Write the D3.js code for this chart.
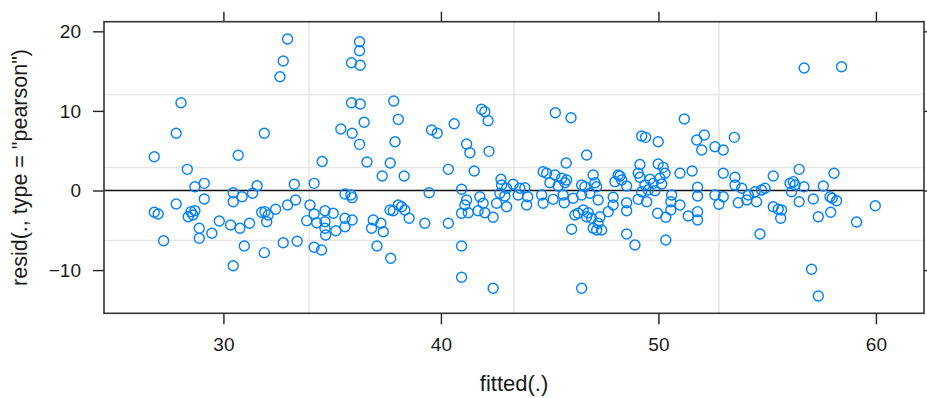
<!DOCTYPE html>
<html>
  <head>
    <meta charset="utf-8">
    <title>Residuals vs fitted</title>
    <script src="https://cdn.jsdelivr.net/npm/d3@7"></script>
    <style>
      body { margin: 0; background: #fff; }
      text { font-family: "Liberation Sans", Arial, sans-serif; fill: #1a1a1a; }
    </style>
  </head>
  <body>
    <svg id="chart" width="927" height="398"></svg>
    <script>
      // fitted values (x) and pearson residuals (y)
      const fitted = [
        28.05, 27.83, 31.88, 26.82, 30.68, 28.34, 28.69, 29.12, 30.45, 30.45,
        30.86, 31.34, 31.55, 29.12, 27.83, 26.82, 27.00, 28.38, 28.51, 28.69,
        28.60, 28.89, 28.89, 29.47, 29.81, 30.33, 30.76, 31.20, 27.25, 30.96,
        30.45, 31.88, 31.76, 31.99,
        32.95, 32.75, 32.60, 36.26, 36.26, 35.89, 36.29, 35.89, 36.29, 37.83,
        36.47, 38.04, 35.40, 35.92, 36.26, 37.89, 34.54, 36.60, 37.67, 37.30,
        38.31, 33.26, 34.17, 35.59, 35.86, 35.92, 39.46, 31.91, 32.06, 32.40,
        32.95, 33.32, 32.75, 33.39, 33.98, 34.17, 34.67, 35.05, 33.83, 34.29,
        34.67, 34.67, 34.70, 35.17, 35.59, 35.59, 35.92, 34.17, 34.51, 36.89,
        36.81, 37.24, 37.35, 37.06, 37.69, 37.66, 37.81, 38.04, 38.19, 38.34,
        38.54, 39.26,
        41.87, 42.02, 42.17, 40.61, 39.57, 39.83, 41.18, 41.33, 42.21, 45.26,
        45.98, 46.70, 45.76, 40.34, 41.53, 40.95, 42.76, 42.79, 43.02, 43.32,
        43.63, 43.86, 42.71, 42.94, 43.55, 43.99, 43.94, 44.70, 44.86, 45.24,
        45.55, 45.78, 45.01, 45.39, 45.70, 44.63, 44.70, 45.16, 45.62, 45.67,
        46.08, 46.47, 46.62, 47.00, 47.08, 46.47, 46.85, 47.16, 41.18, 41.10,
        41.26, 40.95, 41.79, 41.94, 41.71, 42.02, 42.40, 42.56, 43.02, 40.34,
        40.95, 40.95, 42.40, 46.47, 46.01, 46.16, 46.31, 46.54, 46.77, 46.93,
        47.00, 47.16, 47.23, 46.70, 47.23,
        51.19, 49.23, 49.41, 49.99, 51.76, 52.11, 51.99, 52.60, 52.98, 53.49,
        49.15, 49.99, 50.22, 50.30, 49.07, 49.15, 49.61, 49.76, 50.07, 50.15,
        49.38, 49.53, 49.23, 49.84, 48.00, 48.23, 48.31, 48.54, 48.15, 47.92,
        47.92, 47.69, 48.54, 48.54, 49.07, 49.46, 47.31, 47.39, 48.54, 48.92,
        49.96, 50.34, 50.34, 50.61, 50.57, 50.57, 50.99, 50.99, 51.55, 51.80,
        51.80, 51.37, 51.80, 51.80, 52.98, 53.52, 53.52, 53.83, 52.60, 52.98,
        52.78, 53.67, 54.13, 54.06, 54.51, 54.44, 54.74, 54.67,
        56.70, 58.42, 56.47, 55.28, 58.07, 54.90, 56.05, 56.20, 56.28, 56.12,
        56.69, 57.58, 56.47, 57.12, 57.89, 58.19, 57.99, 55.28, 55.51, 55.66,
        55.62, 57.35, 57.92, 59.97, 59.11, 57.04, 57.35
      ];
      const resid = [
        11.03, 7.19, 7.19, 4.25, 4.42, 2.66, 0.48, 0.90, -0.28, -1.41,
        -0.78, -0.35, 0.60, -1.07, -1.70, -2.74, -2.95, -3.29, -2.66, -2.54,
        -3.08, -4.75, -6.01, -5.38, -3.83, -4.33, -4.75, -4.12, -6.31, -6.97,
        -9.45, -7.81, -2.74, -3.92,
        19.03, 16.27, 14.30, 18.69, 17.56, 16.06, 15.73, 11.03, 10.87, 11.24,
        8.57, 8.94, 7.73, 7.19, 5.80, 6.13, 3.64, 3.58, 3.45, 1.82,
        1.82, 0.78, 0.90, -0.44, -0.57, -0.90, -0.28, -2.66, -3.08, -2.36,
        -1.82, -1.19, -6.56, -6.38, -1.82, -2.95, -2.54, -2.86, -3.79, -4.05,
        -3.92, -4.75, -5.59, -5.05, -4.55, -3.49, -3.71, -7.14, -7.47, -3.71,
        -4.75, -4.12, -5.18, -6.97, -8.52, -2.45, -2.54, -1.82, -2.04, -2.45,
        -3.49, -4.12,
        10.20, 9.90, 8.77, 8.39, 7.60, 7.19, 5.84, 4.75, 4.92, 9.77,
        9.15, 4.46, 3.45, 2.66, 2.45, 0.15, 1.41, 0.69, 0.28, 0.78,
        0.28, 0.35, -0.35, -0.69, -0.57, -0.78, -1.82, 2.36, 2.16, 1.95,
        1.53, 1.32, 0.98, 0.57, 0.98, -0.57, -1.61, -1.11, -0.57, -1.53,
        -0.98, 0.69, 0.48, 1.95, 0.98, -0.57, -0.35, 0.48, -1.19, -1.82,
        -2.79, -2.86, -0.78, -1.61, -2.54, -2.79, -3.37, -1.61, -2.04, -4.12,
        -6.97, -10.90, -12.29, -12.29, -4.87, -3.08, -2.86, -2.45, -2.79, -3.49,
        -4.75, -4.96, -4.12, -3.29, -1.19,
        8.98, 6.85, 6.68, 6.13, 6.34, 6.97, 5.09, 5.50, 5.09, 6.68,
        3.27, 3.33, 2.91, 2.16, 2.16, 1.66, 1.41, 0.90, 1.53, 0.82,
        0.69, 0.06, -0.15, -0.03, 1.11, 1.82, 1.32, 0.57, 1.95, -0.85,
        -1.82, -2.66, -1.53, -2.54, -1.11, -1.41, -3.29, -4.96, -5.46, -6.85,
        -2.86, -3.37, -6.22, -0.57, -1.41, -2.45, -1.82, 2.16, 2.45, 0.40,
        -0.69, -3.20, -2.66, -3.71, 2.16, 1.66, 0.69, 0.28, -0.57, -0.78,
        -1.73, -1.53, -0.57, -1.19, -1.41, -0.15, 0.06, -5.46,
        15.39, 15.55, 2.66, 1.82, 2.16, 0.28, 0.90, 1.11, 0.69, -0.15,
        0.48, 0.57, -1.41, -1.07, -0.78, -1.28, -0.98, -2.04, -2.36, -2.45,
        -3.49, -3.29, -2.74, -1.91, -3.96, -9.90, -13.25
      ];
      const xTicks = [30, 40, 50, 60];
      const yTicks = [-10, 0, 10, 20];
      const xDomain = [24.51, 62.21];
      const yDomain = [-15.43, 21.21];

      const panelLeft = 104, panelRight = 924, panelTop = 21.7, panelBottom = 313.3;
      const svg = d3.select("#chart");

      const x = d3.scaleLinear().domain(xDomain).range([panelLeft, panelRight]);
      const y = d3.scaleLinear().domain(yDomain).range([panelBottom, panelTop]);

      // grid: 3 evenly spaced lines inside the panel each way (panel.grid(h = 3, v = 3))
      const gx = d3.range(1, 4).map((i) => xDomain[0] + (i * (xDomain[1] - xDomain[0])) / 4);
      const gy = d3.range(1, 4).map((i) => yDomain[0] + (i * (yDomain[1] - yDomain[0])) / 4);
      const grid = svg.append("g").attr("stroke", "#e6e6e6").attr("stroke-width", 1.5);
      grid.selectAll(".v").data(gx).enter().append("line")
        .attr("x1", (d) => x(d)).attr("x2", (d) => x(d))
        .attr("y1", panelTop).attr("y2", panelBottom);
      grid.selectAll(".h").data(gy).enter().append("line")
        .attr("x1", panelLeft).attr("x2", panelRight)
        .attr("y1", (d) => y(d)).attr("y2", (d) => y(d));

      // reference line at zero
      svg.append("line")
        .attr("x1", panelLeft).attr("x2", panelRight)
        .attr("y1", y(0)).attr("y2", y(0))
        .attr("stroke", "#111").attr("stroke-width", 1.5);

      // points
      svg.append("g").selectAll("circle")
        .data(d3.zip(fitted, resid))
        .enter().append("circle")
        .attr("cx", (d) => x(d[0]))
        .attr("cy", (d) => y(d[1]))
        .attr("r", 5)
        .attr("fill", "none")
        .attr("stroke", "#0080ff")
        .attr("stroke-width", 1.4);

      // axes on all four sides, labels only bottom and left
      const styleAxis = (g) => {
        g.select(".domain").remove();
        g.selectAll(".tick line").attr("stroke", "#222").attr("stroke-width", 1.4);
        g.selectAll(".tick text").style("font-size", "19px").attr("fill", "#1a1a1a");
      };
      svg.append("g").attr("transform", `translate(0,${panelBottom})`)
        .call(d3.axisBottom(x).tickValues(xTicks).tickSize(11).tickPadding(13))
        .call(styleAxis);
      svg.append("g").attr("transform", `translate(0,${panelTop})`)
        .call(d3.axisTop(x).tickValues(xTicks).tickSize(10).tickFormat(""))
        .call(styleAxis);
      svg.append("g").attr("transform", `translate(${panelLeft},0)`)
        .call(d3.axisLeft(y).tickValues(yTicks).tickSize(11).tickPadding(12))
        .call(styleAxis);
      svg.append("g").attr("transform", `translate(${panelRight},0)`)
        .call(d3.axisRight(y).tickValues(yTicks).tickSize(10).tickFormat(""))
        .call(styleAxis);

      // panel border
      svg.append("rect")
        .attr("x", panelLeft).attr("y", panelTop)
        .attr("width", panelRight - panelLeft).attr("height", panelBottom - panelTop)
        .attr("fill", "none").attr("stroke", "#333").attr("stroke-width", 1.6);

      // axis titles
      svg.append("text")
        .attr("x", (panelLeft + panelRight) / 2).attr("y", 391)
        .attr("text-anchor", "middle")
        .style("font-size", "22px")
        .text("fitted(.)");
      svg.append("text")
        .attr("transform", `translate(27,${(panelTop + panelBottom) / 2}) rotate(-90)`)
        .attr("text-anchor", "middle")
        .style("font-size", "21.5px")
        .text('resid(., type = "pearson")');
    </script>
  </body>
</html>
